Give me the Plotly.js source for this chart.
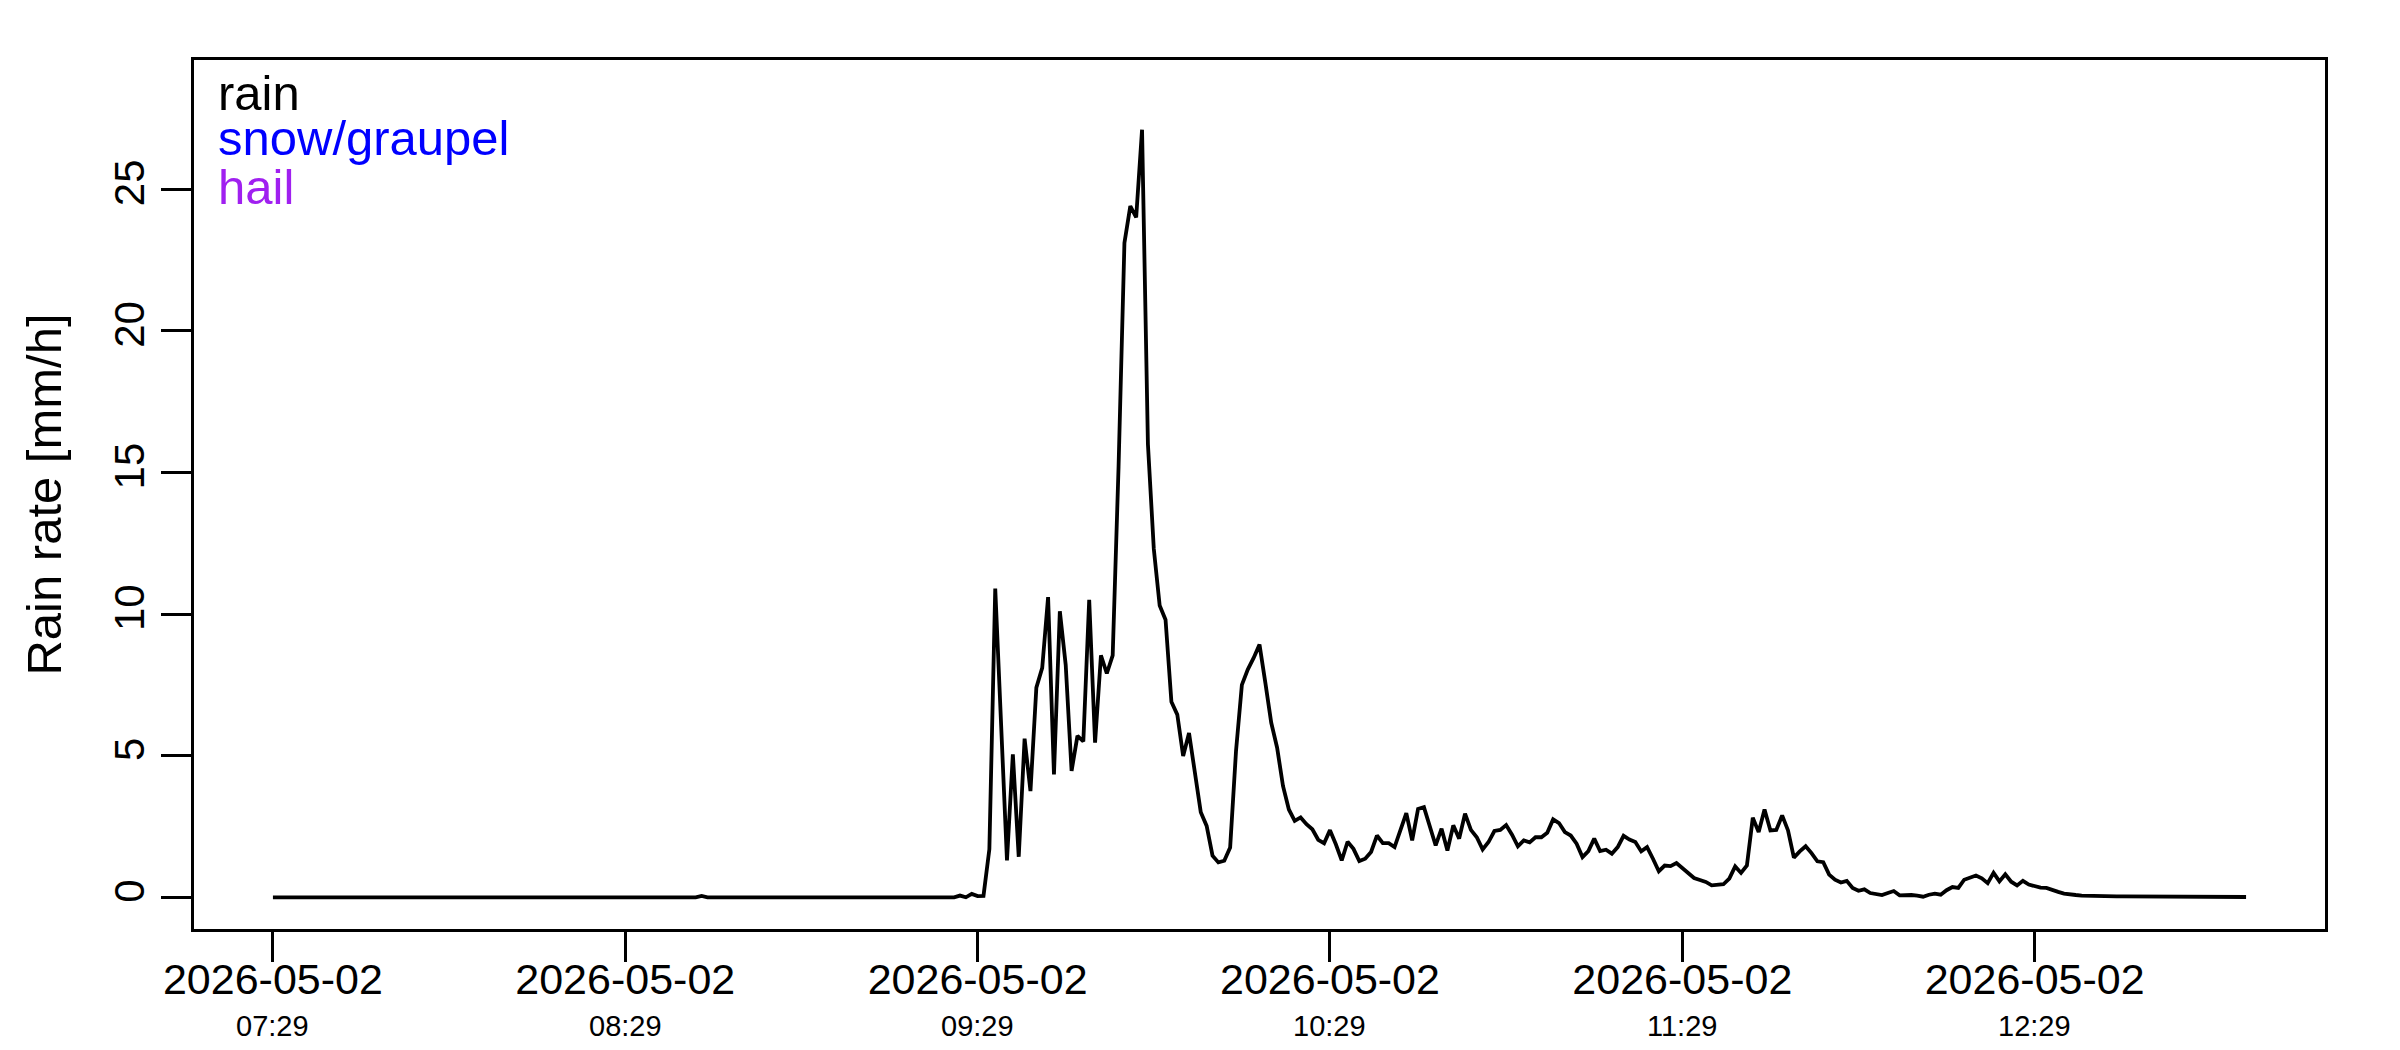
<!DOCTYPE html>
<html>
<head>
<meta charset="utf-8">
<script src="https://cdn.plot.ly/plotly-3.0.1.min.js"></script>
<style>html,body{margin:0;padding:0;background:#fff;}#chart{width:2400px;height:1050px;}</style>
</head>
<body>
<div id="chart"></div>
<script>
// ---- data (1-minute rain rate, mm/h) ----
var startTime = "2026-05-02 07:29";   // first sample
var stepMinutes = 1;                  // sampling interval
var rainRate = [
0,0,0,0,0,0,0,0,0,0,
0,0,0,0,0,0,0,0,0,0,
0,0,0,0,0,0,0,0,0,0,
0,0,0,0,0,0,0,0,0,0,
0,0,0,0,0,0,0,0,0,0,
0,0,0,0,0,0,0,0,0,0,
0,0,0,0,0,0,0,0,0,0,
0,0,0,0.05,0,0,0,0,0,0,
0,0,0,0,0,0,0,0,0,0,
0,0,0,0,0,0,0,0,0,0,
0,0,0,0,0,0,0,0,0,0,
0,0,0,0,0.03,0.01,0,0.06,0,0.12,
0.04,0.05,1.7,10.9,6.0,1.3,5.05,1.43,5.6,3.75,
7.4,8.1,10.6,4.34,10.1,8.2,4.46,5.7,5.5,10.5,
5.46,8.54,7.9,8.54,15.2,23.1,24.4,24.0,27.1,16.0,
12.3,10.3,9.8,6.9,6.45,4.99,5.8,4.34,3.0,2.52,
1.47,1.23,1.29,1.76,5.16,7.5,8.04,8.45,8.92,7.57,
6.16,5.28,3.93,3.1,2.7,2.82,2.58,2.4,2.03,1.91,
2.37,1.87,1.3,1.96,1.71,1.28,1.36,1.6,2.18,1.91,
1.91,1.77,2.36,2.97,2.01,3.12,3.18,2.45,1.83,2.42,
1.65,2.54,2.07,2.95,2.38,2.12,1.69,1.95,2.34,2.38,
2.55,2.21,1.8,2.01,1.94,2.12,2.12,2.28,2.75,2.62,
2.3,2.18,1.89,1.42,1.63,2.07,1.63,1.68,1.54,1.77,
2.17,2.04,1.95,1.62,1.77,1.36,0.92,1.12,1.1,1.21,
1.04,0.87,0.68,0.61,0.54,0.42,0.45,0.46,0.66,1.09,
0.86,1.12,2.81,2.3,3.1,2.36,2.38,2.89,2.36,1.4,
1.62,1.8,1.56,1.27,1.24,0.8,0.62,0.52,0.58,0.33,
0.23,0.28,0.15,0.13,0.08,0.15,0.22,0.07,0.08,0.08,
0.06,0.02,0.09,0.13,0.09,0.25,0.36,0.33,0.62,0.68,
0.77,0.67,0.5,0.86,0.56,0.81,0.55,0.42,0.58,0.45,
0.38,0.34,0.33,0.25,0.19,0.13,0.09,0.08,0.06,0.05,
0.05,0.04,0.04,0.03,0.03,0.03,0.03,0.02,0.03,0.02,
0.02,0.02,0.02,0.02,0.01,0.02,0.01,0.01,0.01,0.01,
0.01,0.01,0.01,0.01,0.01,0.01,0.01
];
var tickTimes  = ["2026-05-02 07:29","2026-05-02 08:29","2026-05-02 09:29","2026-05-02 10:29","2026-05-02 11:29","2026-05-02 12:29"];
var tickDates  = ["2026-05-02","2026-05-02","2026-05-02","2026-05-02","2026-05-02","2026-05-02"];
var tickHours  = ["07:29","08:29","09:29","10:29","11:29","12:29"];
var yTicks     = [0,5,10,15,20,25];
var seriesNames  = ["rain","snow/graupel","hail"];
var seriesColors = ["#000000","#0000FF","#A020F0"];

// ---- helpers ----
function toMs(s){ var p=s.split(/[- :]/).map(Number); return Date.UTC(p[0],p[1]-1,p[2],p[3],p[4]); }
function pad(n,w){ n=String(n); while(n.length<(w||2)) n="0"+n; return n; }
function fmt(ms){ var d=new Date(ms); return d.getUTCFullYear()+"-"+pad(d.getUTCMonth()+1)+"-"+pad(d.getUTCDate())+" "+pad(d.getUTCHours())+":"+pad(d.getUTCMinutes())+":"+pad(d.getUTCSeconds())+"."+pad(d.getUTCMilliseconds(),3); }

var t0 = toMs(startTime);
var xTimes = rainRate.map(function(_,i){ return fmt(t0 + i*stepMinutes*60000); });
var t1 = t0 + (rainRate.length-1)*stepMinutes*60000;
var ext = 0.04*(t1-t0);                         // R-style 4% axis extension
var xRange = [fmt(t0-ext), fmt(t1+ext)];

var font = "Liberation Sans, Arial, Helvetica, sans-serif";

var traces = [{
  type:"scatter", mode:"lines", name:seriesNames[0],
  x:xTimes, y:rainRate,
  line:{color:seriesColors[0], width:3.8},
  showlegend:false, hoverinfo:"x+y"
}];

var annotations = [];
tickTimes.forEach(function(t,k){
  annotations.push({x:t, xref:"x", y:0, yref:"paper", yanchor:"middle", xanchor:"center",
    yshift:-97, text:tickHours[k], showarrow:false, font:{family:font, size:29, color:"#000"}});
});
var legendY = [0.962, 0.910, 0.854];
seriesNames.forEach(function(n,k){
  annotations.push({x:0.0103, xref:"paper", xanchor:"left", y:legendY[k], yref:"paper", yanchor:"middle",
    text:n, showarrow:false, font:{family:font, size:49, color:seriesColors[k]}});
});

var layout = {
  width:2400, height:1050,
  margin:{l:194, r:75, t:60, b:121, pad:0},
  paper_bgcolor:"#fff", plot_bgcolor:"#fff",
  font:{family:font, color:"#000"},
  showlegend:false,
  xaxis:{
    type:"date", range:xRange,
    tickmode:"array", tickvals:tickTimes, ticktext:tickDates,
    ticks:"outside", ticklen:30, tickwidth:3, tickcolor:"#000",
    tickfont:{family:font, size:43, color:"#000"},
    showline:true, linecolor:"#000", linewidth:3, mirror:true,
    showgrid:false, zeroline:false, ticklabelstandoff:-20
  },
  yaxis:{
    range:[-1.12, 29.56],
    tickmode:"array", tickvals:yTicks, ticktext:yTicks.map(String),
    tickangle:-90,
    ticks:"outside", ticklen:30, tickwidth:3, tickcolor:"#000",
    tickfont:{family:font, size:42, color:"#000"},
    showline:true, linecolor:"#000", linewidth:3, mirror:true,
    showgrid:false, zeroline:false,
    title:{text:"Rain rate [mm/h]", font:{family:font, size:49, color:"#000"}, standoff:30}
  },
  annotations:annotations
};

Plotly.newPlot("chart", traces, layout, {staticPlot:true, displayModeBar:false});
</script>
</body>
</html>
